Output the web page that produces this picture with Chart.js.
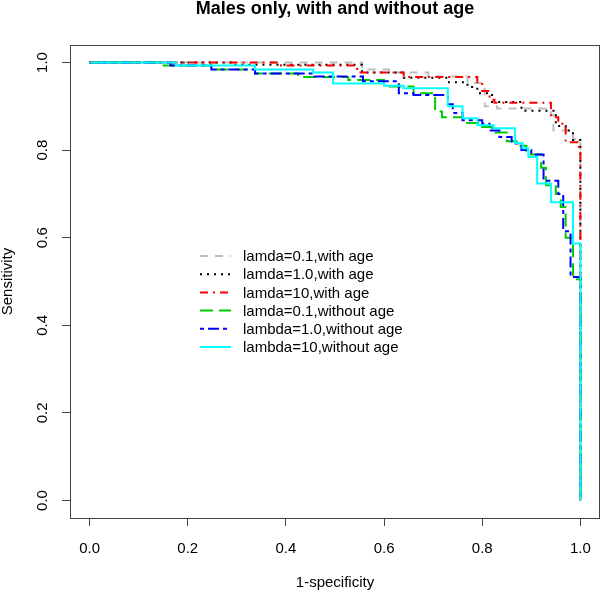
<!DOCTYPE html>
<html>
<head>
<meta charset="utf-8">
<script src="https://cdn.jsdelivr.net/npm/chart.js@4"></script>
<style>
  body { margin: 0; background: #fff; }
  #wrap { width: 600px; height: 592px; }
</style>
</head>
<body>
<div id="wrap"><canvas id="chart" width="600" height="592"></canvas></div>
<script>
// tick labels
const xTicks = [0.0, 0.2, 0.4, 0.6, 0.8, 1.0];
const yTicks = [0.0, 0.2, 0.4, 0.6, 0.8, 1.0];

// legend / series names
const seriesLabels = [
  'lamda=0.1,with age',
  'lamda=1.0,with age',
  'lamda=10,with age',
  'lamda=0.1,without age',
  'lambda=1.0,without age',
  'lambda=10,without age'
];

// ROC step corners: 1-specificity and sensitivity
const fprAge01 = [0, 0.555, 0.61, 0.69, 0.77, 0.80, 0.805, 0.83, 0.94, 0.945, 0.985, 1.0, 1.0];
const sensAge01 = [1, 0.984, 0.977, 0.968, 0.953, 0.94, 0.90, 0.895, 0.88, 0.845, 0.825, 0.6, 0];

const fprAge1 = [0, 0.29, 0.555, 0.64, 0.73, 0.77, 0.79, 0.82, 0.88, 0.95, 0.97, 0.985, 1.0, 1.0];
const sensAge1 = [1, 0.995, 0.977, 0.965, 0.955, 0.944, 0.93, 0.91, 0.89, 0.855, 0.845, 0.823, 0.6, 0];

const fprAge10 = [0, 0.39, 0.545, 0.64, 0.79, 0.80, 0.815, 0.825, 0.94, 0.955, 0.97, 0.995, 1.0, 1.0];
const sensAge10 = [1, 0.993, 0.977, 0.967, 0.955, 0.935, 0.915, 0.908, 0.875, 0.86, 0.818, 0.807, 0.594, 0];

const fprNo01 = [0, 0.146, 0.248, 0.337, 0.425, 0.527, 0.6, 0.66, 0.704, 0.718, 0.76, 0.8, 0.82, 0.85, 0.87, 0.89, 0.92, 0.93, 0.95, 0.96, 0.97, 0.985, 1.0];
const sensNo01 = [1, 0.993, 0.984, 0.975, 0.967, 0.96, 0.945, 0.93, 0.888, 0.875, 0.862, 0.853, 0.84, 0.82, 0.81, 0.79, 0.76, 0.72, 0.70, 0.67, 0.60, 0.505, 0];

const fprNo1 = [0, 0.165, 0.248, 0.337, 0.455, 0.557, 0.63, 0.66, 0.73, 0.74, 0.76, 0.8, 0.815, 0.835, 0.86, 0.88, 0.9, 0.925, 0.955, 0.965, 0.98, 1.0];
const sensNo1 = [1, 0.993, 0.984, 0.975, 0.968, 0.957, 0.93, 0.926, 0.905, 0.885, 0.868, 0.86, 0.845, 0.83, 0.815, 0.80, 0.79, 0.73, 0.70, 0.615, 0.51, 0];

const fprNo10 = [0, 0.176, 0.337, 0.455, 0.496, 0.6, 0.64, 0.73, 0.76, 0.79, 0.823, 0.867, 0.882, 0.894, 0.912, 0.94, 0.985, 1.0];
const sensNo10 = [1, 0.993, 0.984, 0.977, 0.952, 0.947, 0.941, 0.90, 0.873, 0.857, 0.85, 0.816, 0.804, 0.784, 0.724, 0.681, 0.587, 0];

const curves = [
  { x: fprAge01, y: sensAge01, color: '#bebebe', dash: [8, 7] },
  { x: fprAge1, y: sensAge1, color: '#000000', dash: [2, 5] },
  { x: fprAge10, y: sensAge10, color: '#ff0000', dash: [8, 5, 2, 5] },
  { x: fprNo01, y: sensNo01, color: '#00cd00', dash: [13, 6] },
  { x: fprNo1, y: sensNo1, color: '#0000ff', dash: [4, 4, 11, 4] },
  { x: fprNo10, y: sensNo10, color: '#00ffff', dash: [] }
];

const FONT = '"Liberation Sans", Arial, sans-serif';

const decor = {
  id: 'decor',
  afterDraw(chart) {
    const c = chart.ctx;
    const a = chart.chartArea;
    const ys = chart.scales.y;
    c.save();
    // box
    c.strokeStyle = '#444';
    c.lineWidth = 1;
    c.setLineDash([]);
    c.strokeRect(a.left + 0.5, a.top + 0.5, a.right - a.left - 1, a.bottom - a.top);

    // title
    c.fillStyle = '#000';
    c.textAlign = 'center';
    c.textBaseline = 'alphabetic';
    c.font = 'bold 18px ' + FONT;
    c.fillText('Males only, with and without age', (a.left + a.right) / 2, 14);

    // x title
    c.textBaseline = 'middle';
    c.font = '15px ' + FONT;
    c.fillText('1-specificity', (a.left + a.right) / 2, 583);

    // y title and y tick labels (rotated like R)
    c.save();
    c.translate(8, (a.top + a.bottom) / 2);
    c.rotate(-Math.PI / 2);
    c.fillText('Sensitivity', 0, 0);
    c.restore();
    yTicks.forEach(v => {
      c.save();
      c.translate(43, ys.getPixelForValue(v));
      c.rotate(-Math.PI / 2);
      c.fillText(v.toFixed(1), 0, 0);
      c.restore();
    });

    // legend (no box, inside the plot)
    c.textAlign = 'left';
    c.lineWidth = 2;
    chart.data.datasets.forEach((ds, i) => {
      const yy = 256 + i * 18.2;
      c.strokeStyle = ds.borderColor;
      c.setLineDash(ds.borderDash);
      c.beginPath();
      c.moveTo(200, yy);
      c.lineTo(231, yy);
      c.stroke();
      c.fillStyle = '#000';
      c.fillText(ds.label, 243, yy + 1);
    });
    c.restore();
  }
};

const ctx = document.getElementById('chart').getContext('2d');

new Chart(ctx, {
  type: 'line',
  data: {
    datasets: curves.map((cv, i) => ({
      label: seriesLabels[i],
      data: cv.x.map((v, j) => ({ x: v, y: cv.y[j] })),
      borderColor: cv.color,
      borderDash: cv.dash,
      borderWidth: 2,
      pointRadius: 0,
      stepped: 'before',
      fill: false,
      order: curves.length - i
    }))
  },
  options: {
    responsive: false,
    animation: false,
    layout: { padding: { top: 45, right: 0, left: 0, bottom: 0 } },
    plugins: {
      legend: { display: false },
      tooltip: { enabled: false },
      title: { display: false }
    },
    scales: {
      x: {
        type: 'linear',
        min: -0.04,
        max: 1.04,
        afterBuildTicks: s => { s.ticks = xTicks.map(v => ({ value: v })); },
        afterFit: s => { s.height = 74; s.paddingLeft = 0; s.paddingRight = 0; },
        ticks: {
          color: '#000',
          font: { family: FONT, size: 15 },
          padding: 14,
          maxRotation: 0,
          callback: v => Number(v).toFixed(1)
        },
        grid: { drawOnChartArea: false, drawTicks: true, tickLength: 8, color: '#444' },
        border: { display: false }
      },
      y: {
        type: 'linear',
        min: -0.04,
        max: 1.04,
        afterBuildTicks: s => { s.ticks = yTicks.map(v => ({ value: v })); },
        afterFit: s => { s.width = 70; s.paddingTop = 0; s.paddingBottom = 0; },
        ticks: { display: false },
        grid: { drawOnChartArea: false, drawTicks: true, tickLength: 8, color: '#444' },
        border: { display: false }
      }
    }
  },
  plugins: [decor]
});
</script>
</body>
</html>
